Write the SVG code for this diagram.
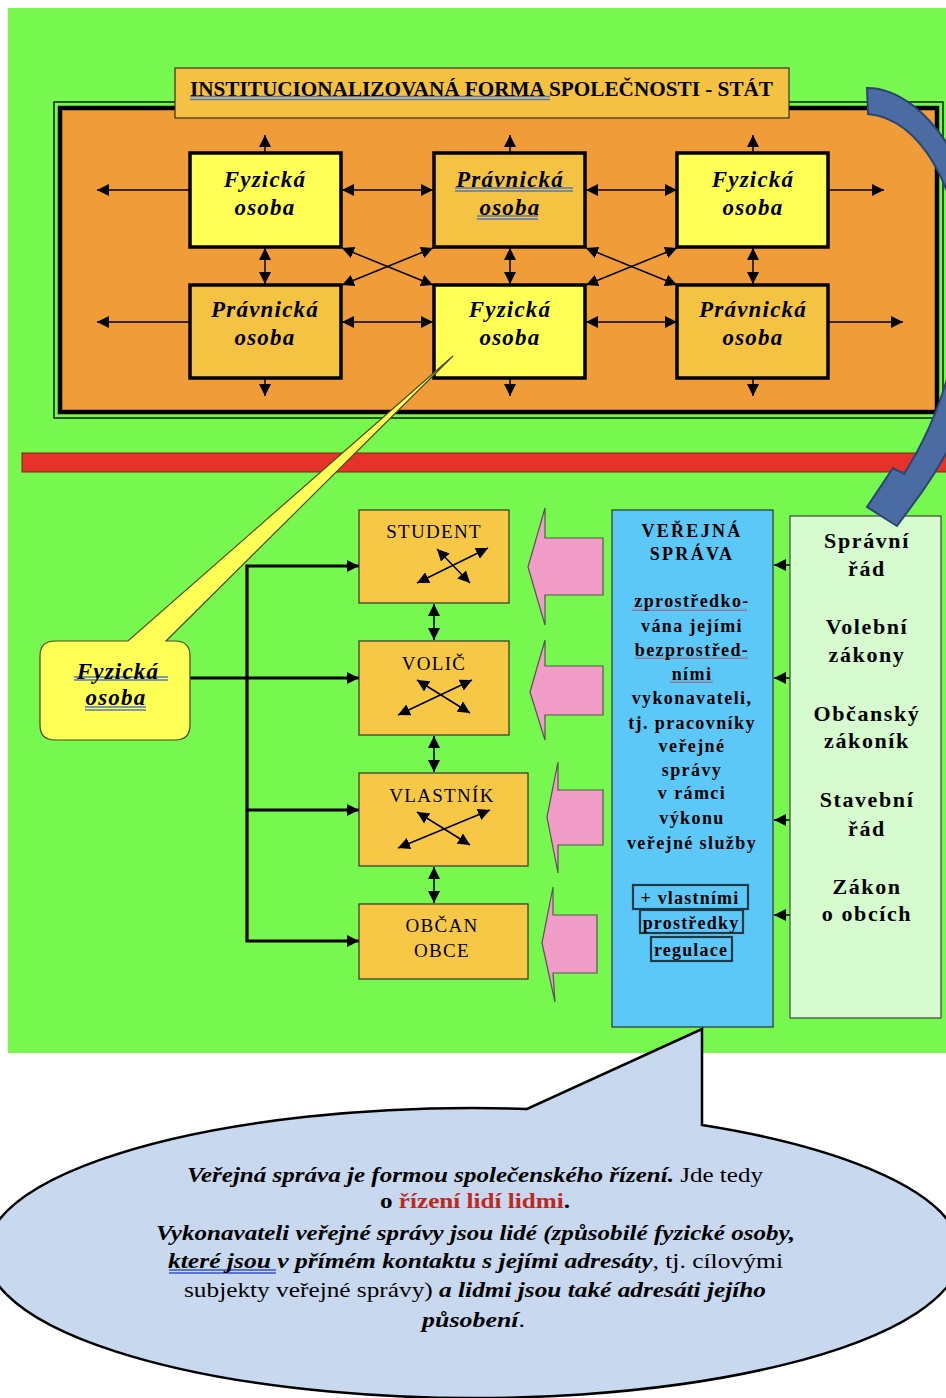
<svg xmlns="http://www.w3.org/2000/svg" width="946" height="1398" viewBox="0 0 946 1398">
<defs>
<style>
.serif{font-family:"Liberation Serif","Times New Roman",serif;}
.bi{font-family:"Liberation Serif","Times New Roman",serif;font-weight:bold;font-style:italic;font-size:23px;letter-spacing:1.2px;text-anchor:middle;fill:#000;}
.lb{font-family:"Liberation Serif","Times New Roman",serif;font-size:19px;letter-spacing:1.3px;text-anchor:middle;fill:#000;}
.vs{font-family:"Liberation Serif","Times New Roman",serif;font-weight:bold;font-size:18px;letter-spacing:1.4px;text-anchor:middle;fill:#000;}
.zk{font-family:"Liberation Serif","Times New Roman",serif;font-weight:bold;font-size:22px;letter-spacing:1.6px;text-anchor:middle;fill:#000;}
.sp{font-family:"Liberation Serif","Times New Roman",serif;font-size:22px;fill:#000;}
.b{font-weight:bold;}
.i{font-style:italic;}
.ybox{fill:#FFFF55;stroke:#000;stroke-width:3.5;}
.obox{fill:#F5C342;stroke:#000;stroke-width:3.5;}
.lbox{fill:#F7C846;stroke:#333;stroke-width:1.2;}
.c1{stroke:#000;stroke-width:1.5;fill:none;}
.c3{stroke:#000;stroke-width:3.2;fill:none;}
.pink{fill:#F19DC8;stroke:#555;stroke-width:1.2;}
.ul{stroke:#5577BB;stroke-width:1.4;fill:none;}
.rb{fill:none;stroke:#1E3A48;stroke-width:2.2;}
</style>
<marker id="ah" viewBox="0 0 10 10" refX="10" refY="5" markerWidth="12" markerHeight="12" markerUnits="userSpaceOnUse" orient="auto-start-reverse">
<path d="M0,0 L10,5 L0,10 z" fill="#000"/>
</marker>
<marker id="ah2" viewBox="0 0 10 10" refX="10" refY="5" markerWidth="13" markerHeight="12" markerUnits="userSpaceOnUse" orient="auto-start-reverse">
<path d="M0,0 L10,5 L0,10 z" fill="#000"/>
</marker>
<pattern id="wave" x="0" y="0" width="4" height="3" patternUnits="userSpaceOnUse">
<path d="M0,2.5 L2,0.5 L4,2.5" fill="none" stroke="#D02020" stroke-width="0.9"/>
</pattern>
</defs>

<!-- backgrounds -->
<rect x="8" y="8" width="938" height="1045" fill="#77F84E"/>

<g id="frame">
<rect x="54" y="102" width="889" height="316" fill="none" stroke="#000" stroke-width="1.3"/>
<rect x="60" y="108" width="877" height="304" fill="#F09C38" stroke="#000" stroke-width="4.5"/>
</g>

<g id="title">
<rect x="175" y="68" width="614" height="50" fill="#F4C142" stroke="#333" stroke-width="1.2"/>
<line class="ul" x1="190" y1="96.5" x2="550" y2="96.5"/>
<line class="ul" x1="190" y1="99.5" x2="550" y2="99.5"/>
<text class="serif b" x="190" y="96" font-size="20" textLength="583" lengthAdjust="spacingAndGlyphs">INSTITUCIONALIZOVANÁ  FORMA SPOLEČNOSTI - STÁT</text>
</g>

<!-- top connectors -->
<g id="top-connectors">
<line class="c1" x1="265" y1="153" x2="265" y2="135" marker-end="url(#ah)"/>
<line class="c1" x1="510" y1="153" x2="510" y2="135" marker-end="url(#ah)"/>
<line class="c1" x1="753" y1="153" x2="753" y2="135" marker-end="url(#ah)"/>
<line class="c1" x1="265" y1="378" x2="265" y2="396" marker-end="url(#ah)"/>
<line class="c1" x1="510" y1="378" x2="510" y2="396" marker-end="url(#ah)"/>
<line class="c1" x1="753" y1="378" x2="753" y2="396" marker-end="url(#ah)"/>
<line class="c1" x1="190" y1="190" x2="97" y2="190" marker-end="url(#ah)"/>
<line class="c1" x1="190" y1="322" x2="97" y2="322" marker-end="url(#ah)"/>
<line class="c1" x1="829" y1="190" x2="884" y2="190" marker-end="url(#ah)"/>
<line class="c1" x1="829" y1="322" x2="903" y2="322" marker-end="url(#ah)"/>
<line class="c1" x1="342" y1="190" x2="433" y2="190" marker-start="url(#ah)" marker-end="url(#ah)"/>
<line class="c1" x1="586" y1="190" x2="677" y2="190" marker-start="url(#ah)" marker-end="url(#ah)"/>
<line class="c1" x1="342" y1="322" x2="433" y2="322" marker-start="url(#ah)" marker-end="url(#ah)"/>
<line class="c1" x1="586" y1="322" x2="677" y2="322" marker-start="url(#ah)" marker-end="url(#ah)"/>
<line class="c1" x1="265" y1="248" x2="265" y2="284" marker-start="url(#ah)" marker-end="url(#ah)"/>
<line class="c1" x1="510" y1="248" x2="510" y2="284" marker-start="url(#ah)" marker-end="url(#ah)"/>
<line class="c1" x1="753" y1="248" x2="753" y2="284" marker-start="url(#ah)" marker-end="url(#ah)"/>
<line class="c1" x1="342" y1="248" x2="433" y2="285" marker-start="url(#ah)" marker-end="url(#ah)"/>
<line class="c1" x1="433" y1="248" x2="342" y2="285" marker-start="url(#ah)" marker-end="url(#ah)"/>
<line class="c1" x1="586" y1="248" x2="677" y2="285" marker-start="url(#ah)" marker-end="url(#ah)"/>
<line class="c1" x1="677" y1="248" x2="586" y2="285" marker-start="url(#ah)" marker-end="url(#ah)"/>
</g>

<g id="t-fyz1">
<rect class="ybox" x="190" y="153" width="151" height="94"/>
<text class="bi" x="265" y="187">Fyzická</text>
<text class="bi" x="265" y="215">osoba</text>
</g>
<g id="t-prav1">
<rect class="obox" x="434" y="153" width="151" height="94"/>
<line class="ul" x1="455" y1="188" x2="573" y2="188"/>
<line class="ul" x1="455" y1="191" x2="573" y2="191"/>
<line class="ul" x1="477" y1="216" x2="538" y2="216"/>
<line class="ul" x1="477" y1="219" x2="538" y2="219"/>
<text class="bi" x="510" y="187">Právnická</text>
<text class="bi" x="510" y="215">osoba</text>
</g>
<g id="t-fyz2">
<rect class="ybox" x="677" y="153" width="151" height="94"/>
<text class="bi" x="753" y="187">Fyzická</text>
<text class="bi" x="753" y="215">osoba</text>
</g>
<g id="t-prav2">
<rect class="obox" x="190" y="285" width="151" height="93"/>
<text class="bi" x="265" y="317">Právnická</text>
<text class="bi" x="265" y="345">osoba</text>
</g>
<g id="t-fyz3">
<rect class="ybox" x="434" y="285" width="151" height="93"/>
<text class="bi" x="510" y="317">Fyzická</text>
<text class="bi" x="510" y="345">osoba</text>
</g>
<g id="t-prav3">
<rect class="obox" x="677" y="285" width="151" height="93"/>
<text class="bi" x="753" y="317">Právnická</text>
<text class="bi" x="753" y="345">osoba</text>
</g>

<rect id="red-bar" x="22" y="453" width="926" height="19" fill="#E63228" stroke="#7a2a10" stroke-width="1"/>

<!-- lower connectors -->
<g id="lower-connectors">
<polyline class="c3" points="359,566 247,566 247,941 359,941" marker-start="url(#ah2)" marker-end="url(#ah2)"/>
<line class="c3" x1="190" y1="678" x2="359" y2="678" marker-end="url(#ah2)"/>
<line class="c3" x1="247" y1="810" x2="359" y2="810" marker-end="url(#ah2)"/>
<line class="c1" x1="434" y1="604" x2="434" y2="640" marker-start="url(#ah)" marker-end="url(#ah)"/>
<line class="c1" x1="434" y1="736" x2="434" y2="772" marker-start="url(#ah)" marker-end="url(#ah)"/>
<line class="c1" x1="434" y1="867" x2="434" y2="903" marker-start="url(#ah)" marker-end="url(#ah)"/>
<line class="c1" x1="790" y1="565" x2="774" y2="565" marker-end="url(#ah)"/>
<line class="c1" x1="790" y1="678" x2="774" y2="678" marker-end="url(#ah)"/>
<line class="c1" x1="790" y1="820" x2="774" y2="820" marker-end="url(#ah)"/>
<line class="c1" x1="790" y1="915" x2="774" y2="915" marker-end="url(#ah)"/>
</g>

<g id="student">
<rect class="lbox" x="359" y="510" width="150" height="93"/>
<text class="lb" x="434" y="538">STUDENT</text>
<line class="c1" x1="417" y1="583" x2="488" y2="548" marker-start="url(#ah)" marker-end="url(#ah)"/>
<line class="c1" x1="437" y1="549" x2="470" y2="583" marker-start="url(#ah)" marker-end="url(#ah)"/>
</g>
<g id="volic">
<rect class="lbox" x="359" y="641" width="150" height="94"/>
<text class="lb" x="434" y="670">VOLIČ</text>
<line class="c1" x1="398" y1="715" x2="472" y2="680" marker-start="url(#ah)" marker-end="url(#ah)"/>
<line class="c1" x1="417" y1="680" x2="470" y2="713" marker-start="url(#ah)" marker-end="url(#ah)"/>
</g>
<g id="vlastnik">
<rect class="lbox" x="359" y="773" width="169" height="93"/>
<text class="lb" x="442" y="802">VLASTNÍK</text>
<line class="c1" x1="398" y1="848" x2="490" y2="810" marker-start="url(#ah)" marker-end="url(#ah)"/>
<line class="c1" x1="417" y1="812" x2="470" y2="845" marker-start="url(#ah)" marker-end="url(#ah)"/>
</g>
<g id="obcan">
<rect class="lbox" x="359" y="904" width="169" height="75"/>
<text class="lb" x="442" y="932">OBČAN</text>
<text class="lb" x="442" y="957">OBCE</text>
</g>

<g id="pink-arrows">
<path class="pink" d="M603,538 L545,538 L545,508 L528,567 L545,625 L545,595 L603,595 Z"/>
<path class="pink" d="M603,666 L545,666 L545,640 L530,692 L545,740 L545,715 L603,715 Z"/>
<path class="pink" d="M603,790 L558,790 L558,762 L547,817 L558,873 L558,845 L603,845 Z"/>
<path class="pink" d="M597,915 L553,915 L553,887 L542,943 L555,1002 L553,973 L597,973 Z"/>
</g>

<g id="verejna-sprava">
<rect x="612" y="510" width="161" height="517" fill="#5CC8F8" stroke="#333" stroke-width="1.2"/>
<text class="vs" x="692" y="537" style="letter-spacing:2.3px">VEŘEJNÁ</text>
<text class="vs" x="692" y="560" style="letter-spacing:2.3px">SPRÁVA</text>
<rect x="632" y="608" width="115" height="3" fill="url(#wave)"/>
<rect x="635" y="656" width="113" height="3" fill="url(#wave)"/>
<rect x="670" y="680" width="43" height="3" fill="url(#wave)"/>
<text class="vs" x="692" y="607">zprostředko-</text>
<text class="vs" x="692" y="632">vána jejími</text>
<text class="vs" x="692" y="656">bezprostřed-</text>
<text class="vs" x="692" y="680">ními</text>
<text class="vs" x="692" y="704">vykonavateli,</text>
<text class="vs" x="692" y="729">tj. pracovníky</text>
<text class="vs" x="692" y="752">veřejné</text>
<text class="vs" x="692" y="776">správy</text>
<text class="vs" x="692" y="799">v rámci</text>
<text class="vs" x="692" y="824">výkonu</text>
<text class="vs" x="692" y="849">veřejné služby</text>
<rect class="rb" x="633" y="885" width="115" height="24"/>
<rect class="rb" x="640" y="910" width="103" height="23"/>
<rect class="rb" x="651" y="937" width="81" height="24"/>
<text class="vs" x="690" y="904" style="letter-spacing:1.2px">+  vlastními</text>
<text class="vs" x="691" y="929" style="letter-spacing:1.2px">prostředky</text>
<text class="vs" x="691" y="956" style="letter-spacing:1.2px">regulace</text>
</g>

<g id="zakony">
<rect x="790" y="516" width="151" height="502" fill="#D5FBCE" stroke="#444" stroke-width="1.2"/>
<text class="zk" x="867" y="548">Správní</text>
<text class="zk" x="867" y="576">řád</text>
<text class="zk" x="867" y="634">Volební</text>
<text class="zk" x="867" y="662">zákony</text>
<text class="zk" x="867" y="721">Občanský</text>
<text class="zk" x="867" y="748">zákoník</text>
<text class="zk" x="867" y="807">Stavební</text>
<text class="zk" x="867" y="836">řád</text>
<text class="zk" x="867" y="894">Zákon</text>
<text class="zk" x="867" y="921">o obcích</text>
</g>

<g id="fyzicka-callout">
<path d="M55,641 L128,641 L453,356 L166,641 L175,641 Q190,641 190,656 L190,725 Q190,740 175,740 L55,740 Q40,740 40,725 L40,656 Q40,641 55,641 Z" fill="#FFFF55" stroke="#4a4a20" stroke-width="1.2"/>
<line class="ul" x1="74" y1="677" x2="168" y2="677"/>
<line class="ul" x1="74" y1="680" x2="168" y2="680"/>
<line class="ul" x1="85" y1="707" x2="146" y2="707"/>
<line class="ul" x1="85" y1="710" x2="146" y2="710"/>
<text class="bi" x="118" y="679">Fyzická</text>
<text class="bi" x="116" y="705">osoba</text>
</g>

<g id="speech-bubble">
<path d="M527,1108.9 A487,145 0 1,0 702,1125 L702,1029 Z" fill="#C8D8EE" stroke="#000" stroke-width="2.5" stroke-linejoin="miter"/>
<text class="sp" x="187" y="1182" textLength="576" lengthAdjust="spacingAndGlyphs"><tspan class="b i">Veřejná správa je formou společenského řízení.</tspan> Jde tedy</text>
<text class="sp b" x="380" y="1208" textLength="190" lengthAdjust="spacingAndGlyphs">o <tspan fill="#C0281E">řízení lidí lidmi</tspan>.</text>
<text class="sp b i" x="156" y="1240" textLength="639" lengthAdjust="spacingAndGlyphs">Vykonavateli veřejné správy jsou lidé (způsobilé fyzické osoby,</text>
<line x1="169" y1="1270" x2="276" y2="1270" stroke="#3355CC" stroke-width="1.5"/>
<line x1="169" y1="1273" x2="276" y2="1273" stroke="#3355CC" stroke-width="1.5"/>
<text class="sp" x="168" y="1268" textLength="615" lengthAdjust="spacingAndGlyphs"><tspan class="b i">které  jsou v přímém  kontaktu s jejími adresáty</tspan>, tj. cílovými</text>
<text class="sp" x="184" y="1297" textLength="582" lengthAdjust="spacingAndGlyphs">subjekty  veřejné správy) <tspan class="b i">a lidmi jsou také adresáti jejího</tspan></text>
<text class="sp" x="422" y="1327" textLength="103" lengthAdjust="spacingAndGlyphs"><tspan class="b i">působení</tspan>.</text>
</g>

<g id="curved-arrow">
<path d="M867,88 C930,88 992,190 988,300 C986,380 955,445 922,492 L897,526 L867,507 L893,468 L904,474 C945,410 965,330 962,270 C960,190 920,118 868,114 Z" fill="#4A6CA3" stroke="#2C4470" stroke-width="2"/>
</g>
</svg>
